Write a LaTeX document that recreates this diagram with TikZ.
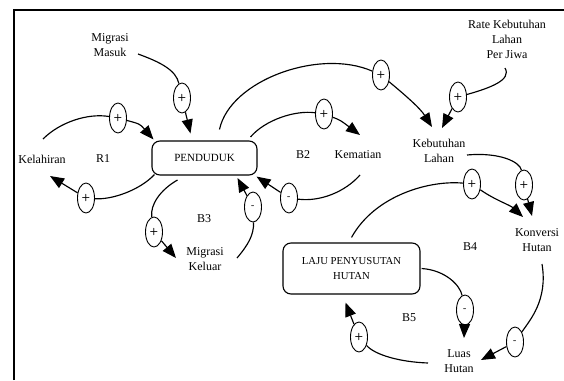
\documentclass[tikz,border=0pt]{standalone}
\usepackage{fontspec}
\setmainfont{Liberation Serif}
\usetikzlibrary{arrows.meta,shapes.geometric,calc}
\begin{document}
\begin{tikzpicture}[x=1pt,y=-1pt,
  lbl/.style={font=\fontsize{12}{15}\selectfont, align=center, inner sep=1pt},
  stock/.style={draw, line width=1.1pt, rounded corners=8pt, align=center, inner sep=0pt},
  mk/.style={draw, ellipse, fill=white, minimum width=17pt, minimum height=30pt, inner sep=0pt, line width=0.9pt, font=\fontsize{10}{10}\selectfont\sffamily\bfseries},
  lnk/.style={line width=1.15pt},
  arr/.style={line width=1.15pt, -{Triangle[length=14pt,width=11pt]}}]
\useasboundingbox (0,0) rectangle (564,380);
\draw[line width=1.2pt] (14,380) -- (14,10) -- (564,10);

% text nodes
\node[lbl] (mm) at (110,45) {Migrasi\\Masuk};
\node[lbl] (rk) at (507,39) {Rate Kebutuhan\\Lahan\\Per Jiwa};
\node[lbl] (kel) at (42,159) {Kelahiran};
\node[lbl] (r1) at (103,159) {R1};
\node[stock, minimum width=105pt, minimum height=34pt, font=\fontsize{11}{14}\selectfont] (pend) at (204.5,158) {PENDUDUK};
\node[lbl] (b2) at (303,155) {B2};
\node[lbl] (kem) at (358,155) {Kematian};
\node[lbl] (kl) at (439,151) {Kebutuhan\\Lahan};
\node[lbl] (b3) at (204,219) {B3};
\node[lbl] (mk) at (205,259) {Migrasi\\Keluar};
\node[lbl] (kh) at (537,240) {Konversi\\Hutan};
\node[lbl] (b4) at (470,247) {B4};
\node[stock, minimum width=137pt, minimum height=51pt, font=\fontsize{10.7}{15}\selectfont] (laju) at (351.5,268.5) {LAJU PENYUSUTAN\\HUTAN};
\node[lbl] (b5) at (409,318) {B5};
\node[lbl] (lh) at (459,361) {Luas\\Hutan};

% polarity markers
\node[mk] (m1) at (182,98) {+};
\node[mk] (m2) at (118,118) {+};
\node[mk] (m3) at (86,198) {+};
\node[mk] (m4) at (381,75) {+};
\node[mk] (m5) at (324,114) {+};
\node[mk] (m6) at (289,198) {-};
\node[mk] (m7) at (154,232) {+};
\node[mk] (m8) at (253,207) {-};
\node[mk] (m9) at (458,97) {+};
\node[mk] (m10) at (524,185) {+};
\node[mk] (m11) at (472,184) {+};
\node[mk] (m12) at (465,310) {-};
\node[mk] (m13) at (515,342) {-};
\node[mk] (m14) at (359,337) {+};

% connectors
\draw[lnk] ([shift={(28,9)}]mm.center) .. controls (160,62) and (176,70) .. (m1);
\draw[arr] (m1) -- ([shift={(-14,-7)}]pend.north);

\draw[lnk] ([shift={(1,-20)}]kel.center) .. controls (60,122) and (88,113) .. (m2);
\draw[arr] (m2) .. controls (140,124) .. ([shift={(2,-1)}]pend.north west);

\draw[lnk] ([shift={(3,-1)}]pend.south west) .. controls (140,190) and (112,200) .. (m3);
\draw[arr] (m3) -- ([shift={(8,17)}]kel.center);

\draw[lnk] ([shift={(15,-11)}]pend.north) .. controls (230,80) and (320,48) .. (m4);
\draw[arr] (m4) .. controls (405,95) and (420,108) .. ([shift={(-7,-24)}]kl.center);

\draw[lnk] ([shift={(46,-21)}]pend.center) .. controls (265,120) and (295,110) .. (m5);
\draw[arr] (m5) .. controls (340,120) .. ([shift={(2,-20)}]kem.center);

\draw[lnk] ([shift={(2,20)}]kem.center) .. controls (345,192) and (320,202) .. (m6);
\draw[arr] (m6) -- ([shift={(-1,1)}]pend.south east);

\draw[lnk] ([shift={(-27,22)}]pend.center) .. controls (160,190) and (150,205) .. (m7);
\draw[arr] (m7) -- ([shift={(-29,-1)}]mk.center);

\draw[lnk] ([shift={(32,-1)}]mk.center) .. controls (248,245) and (254,235) .. (m8);
\draw[arr] (m8) -- ([shift={(33,20)}]pend.center);

\draw[lnk] ([shift={(-2,29)}]rk.center) .. controls (512,80) and (490,88) .. (m9);
\draw[arr] (m9) -- ([shift={(3,-23)}]kl.center);

\draw[lnk] ([shift={(28,4)}]kl.center) .. controls (500,152) and (520,162) .. (m10);
\draw[arr] (m10) -- ([shift={(-5,-24)}]kh.center);

\draw[lnk] ([shift={(0,-5)}]laju.north) .. controls (375,195) and (430,180) .. (m11);
\draw[arr] (m11) .. controls (495,200) and (510,205) .. ([shift={(-14,-23)}]kh.center);

\draw[lnk] ([shift={(1,0)}]laju.east) .. controls (445,270) and (460,285) .. (m12);
\draw[arr] (m12) -- ([shift={(5,-23)}]lh.center);

\draw[lnk] ([shift={(5,24)}]kh.center) .. controls (548,300) and (530,320) .. (m13);
\draw[arr] (m13) -- ([shift={(22,-1)}]lh.center);

\draw[lnk] ([shift={(-31,2)}]lh.center) .. controls (400,362) and (375,355) .. (m14);
\draw[arr] (m14) -- ([shift={(-6,8)}]laju.south);
\end{tikzpicture}
\end{document}
